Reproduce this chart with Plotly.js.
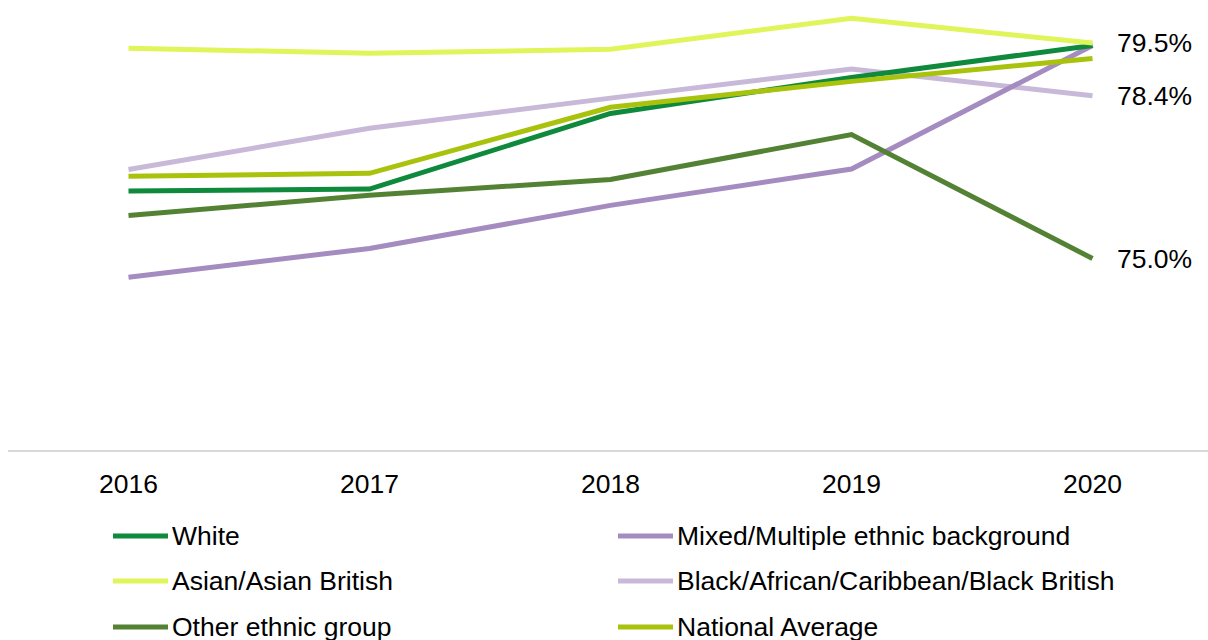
<!DOCTYPE html>
<html>
<head>
<meta charset="utf-8">
<script src="https://cdn.plot.ly/plotly-3.0.1.min.js"></script>
<style>html,body{margin:0;padding:0;background:#fff;}#chart{width:1208px;height:640px;}</style>
</head>
<body>
<div id="chart"></div>
<script>
const years = [2016, 2017, 2018, 2019, 2020];
const white    = [76.41, 76.45, 78.03, 78.78, 79.45];
const asian    = [79.39, 79.29, 79.37, 80.02, 79.50];
const other    = [75.90, 76.32, 76.65, 77.59, 75.00];
const mixed    = [74.61, 75.21, 76.11, 76.87, 79.45];
const black    = [76.86, 77.72, 78.35, 78.96, 78.40];
const national = [76.72, 76.78, 78.16, 78.70, 79.18];
const endLabels = [{value: 79.5, text: '79.5%'}, {value: 78.4, text: '78.4%'}, {value: 75.0, text: '75.0%'}];

const seriesNames = ['White', 'Mixed/Multiple ethnic background', 'Asian/Asian British',
  'Black/African/Caribbean/Black British', 'Other ethnic group', 'National Average'];
const seriesData = [white, mixed, asian, black, other, national];
const seriesColors = ['#0f8a3c', '#a48cc0', '#e0f55a', '#c8b9d9', '#548235', '#a9c20c'];
const drawOrder = [3, 1, 4, 0, 5, 2];

const FONT = 'Liberation Sans, Arial, sans-serif';
const FS = 26.5;
const W = 1208, H = 640, L = 8, T = 0, PW = 1200, PH = 450;
const px2x = px => (px - L) / PW;
const py2y = py => 1 - (py - T) / PH;

const traces = drawOrder.map(i => ({
  x: years, y: seriesData[i], name: seriesNames[i], type: 'scatter', mode: 'lines',
  line: {color: seriesColors[i], width: 5}, showlegend: false, hoverinfo: 'skip'
}));

const shapes = [], annotations = [];
endLabels.forEach(l => annotations.push({
  x: 2020, y: l.value, xref: 'x', yref: 'y', text: l.text, showarrow: false,
  xanchor: 'left', yanchor: 'middle', xshift: 22, font: {family: FONT, size: FS, color: '#000'}
}));
// custom legend: two columns, three rows
const colX = [113, 618], rowY = [536, 581, 627];
seriesNames.forEach((n, i) => {
  const c = i % 2, r = Math.floor(i / 2);
  shapes.push({type: 'line', xref: 'paper', yref: 'paper',
    x0: px2x(colX[c]), x1: px2x(colX[c] + 55), y0: py2y(rowY[r]), y1: py2y(rowY[r]),
    line: {color: seriesColors[i], width: 5}});
  annotations.push({xref: 'paper', yref: 'paper', x: px2x(colX[c] + 57), y: py2y(rowY[r]),
    text: n, showarrow: false, xanchor: 'left', yanchor: 'middle',
    font: {family: FONT, size: FS, color: '#000'}});
});

const layout = {
  width: W, height: H, margin: {l: L, r: W - L - PW, t: T, b: H - T - PH, pad: 0},
  paper_bgcolor: '#fff', plot_bgcolor: '#fff', showlegend: false,
  font: {family: FONT, size: FS, color: '#000'},
  xaxis: {type: 'linear', range: [2015.5, 2015.5 + PW / 241], tickvals: years, ticktext: years.map(String),
    showgrid: false, zeroline: false, showline: true, linecolor: '#d9d9d9', linewidth: 2,
    ticks: '', ticklabelstandoff: 9, tickfont: {family: FONT, size: FS, color: '#000'}},
  yaxis: {range: [71, 80.4], visible: false, showgrid: false, zeroline: false},
  shapes, annotations
};
Plotly.newPlot('chart', traces, layout, {staticPlot: true});
</script>
</body>
</html>
